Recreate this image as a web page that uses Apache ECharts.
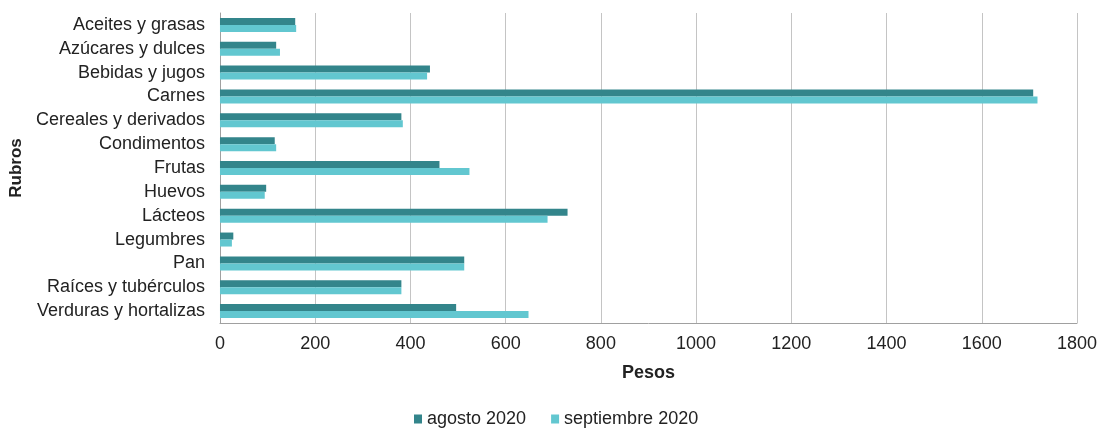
<!DOCTYPE html>
<html><head><meta charset="utf-8">
<script src="https://cdn.jsdelivr.net/npm/echarts@6/dist/echarts.min.js"></script>
<style>html,body{margin:0;padding:0;background:#fff}#c{width:1101px;height:428px}</style>
</head><body><div id="c"></div>
<script>
const categories = ["Aceites y grasas","Azúcares y dulces","Bebidas y jugos","Carnes","Cereales y derivados","Condimentos","Frutas","Huevos","Lácteos","Legumbres","Pan","Raíces y tubérculos","Verduras y hortalizas"];
const agosto = [158,118,441,1708,381,115,461,97,730,28,513,381,496];
const septiembre = [160,126,435,1717,384,118,524,94,688,25,513,381,648];
const seriesNames = ["agosto 2020","septiembre 2020"];
const xTicks = {min:0,max:1800,interval:200};

const chart = echarts.init(document.getElementById('c'));
const font = "'Liberation Sans', Arial, sans-serif";
chart.setOption({
  animation:false,
  textStyle:{fontFamily:font},
  grid:{left:219,right:24,top:13,bottom:105,containLabel:false},
  legend:{top:405,left:409,itemWidth:8,itemHeight:9,itemGap:25,icon:'rect',
    textStyle:{fontSize:18,color:'#222',fontFamily:font},data:seriesNames},
  xAxis:{type:'value',min:xTicks.min,max:xTicks.max,interval:xTicks.interval,
    name:'Pesos',nameLocation:'middle',nameGap:41,
    nameTextStyle:{fontSize:18,fontWeight:'bold',color:'#222',fontFamily:font},
    axisLine:{show:true,lineStyle:{color:'#a0a0a0',width:1}},
    axisTick:{show:false},
    axisLabel:{fontSize:18,color:'#222',margin:12,fontFamily:font,formatter:v=>String(v)},
    splitLine:{show:true,lineStyle:{color:'#c4c4c4',width:1}}},
  yAxis:{type:'category',data:categories,inverse:true,
    name:'Rubros',nameLocation:'middle',nameGap:192,nameRotate:90,
    nameTextStyle:{fontSize:17,fontWeight:'bold',color:'#222',fontFamily:font},
    axisLine:{show:true,lineStyle:{color:'#a0a0a0',width:1}},
    axisTick:{show:false},
    axisLabel:{fontSize:18,color:'#222',margin:15,fontFamily:font}},
  series:[
    {name:seriesNames[0],type:'bar',data:agosto,barWidth:7,barGap:'0%',
      itemStyle:{color:'#33858b'}},
    {name:seriesNames[1],type:'bar',data:septiembre,barWidth:7,barGap:'0%',
      itemStyle:{color:'#62c7d0'}}
  ]
});
</script></body></html>
